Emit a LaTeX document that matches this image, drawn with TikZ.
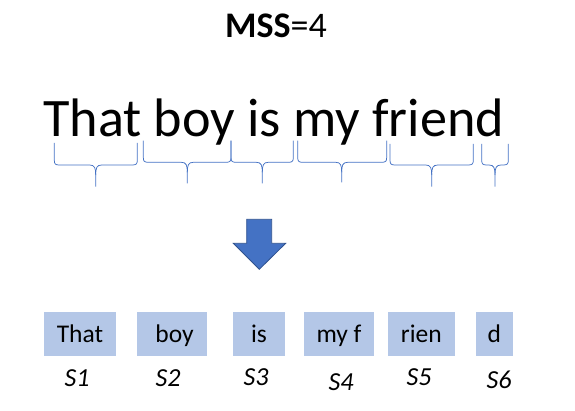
\documentclass[tikz,border=0pt]{standalone}
\usepackage{fontspec}
\setmainfont{Carlito}
\definecolor{braceblue}{HTML}{4472C4}
\definecolor{boxfill}{HTML}{B4C7E7}
\definecolor{arrowedge}{HTML}{2F528F}
\newcommand{\mybrace}[6]{%
  % L R top h m tip
  \draw[bracestyle] (#1,#3) -- (#1,#4-5) .. controls (#1,#4-1) and (#1+1,#4) .. (#1+5,#4)
    -- (#5-6,#4) .. controls (#5-1,#4) and (#5,#4+3) .. (#5,#4+10) -- (#5,#6);
  \draw[bracestyle] (#2,#3) -- (#2,#4-5) .. controls (#2,#4-1) and (#2-1,#4) .. (#2-5,#4)
    -- (#5+6,#4) .. controls (#5+1,#4) and (#5,#4+3) .. (#5,#4+10);
}
\tikzset{
  bracestyle/.style={draw=braceblue, line width=0.75pt},
  segbox/.style={fill=boxfill, inner sep=0pt, minimum height=43.4pt, font=\fontsize{25.5}{30}\selectfont, text depth=0pt},
  seglabel/.style={inner sep=0pt, font=\fontsize{26}{30}\selectfont\itshape, anchor=base},
}
\begin{document}
\begin{tikzpicture}[x=1pt,y=-1pt]
\useasboundingbox (0,0) rectangle (575,411);
\node[inner sep=0pt, anchor=base] (title) at (276,37.3) {\fontsize{36}{40}\selectfont\textbf{MSS}=4};
\node[inner sep=0pt, anchor=base west] (sentence) at (43,136.7) {\fontsize{54.2}{60}\selectfont That boy is my friend};
\mybrace{54.3}{137.3}{143}{165}{95.7}{186.7}
\mybrace{143.3}{231}{140.7}{162.3}{187.3}{183.3}
\mybrace{231}{293.3}{140.7}{162.3}{262.3}{183.3}
\mybrace{297.7}{386.7}{140.7}{162.3}{341.7}{182.3}
\mybrace{390}{473.3}{144}{165}{431.7}{186.7}
\mybrace{481.7}{508.3}{144}{165}{495}{186.7}
\draw[fill=braceblue, draw=arrowedge, line width=0.8pt] (246.7,219.3) -- (271.7,219.3) -- (271.7,243.3) -- (285.7,243.3) -- (259.3,269.3) -- (233.3,243.3) -- (246.7,243.3) -- cycle;
\path (80,334) node[segbox, minimum width=72pt] (b1) {That};
\path (171.7,334) node[segbox, minimum width=70pt] (b2) {\ boy};
\path (259,334) node[segbox, minimum width=52pt] (b3) {is};
\path (339,334) node[segbox, minimum width=70pt] (b4) {my f};
\path (421.3,334) node[segbox, minimum width=66.7pt] (b5) {rien};
\path (494.3,334) node[segbox, minimum width=36.7pt] (b6) {d};
\node[seglabel] (s1) at (77,386) {S1};
\node[seglabel] (s2) at (168,386) {S2};
\node[seglabel] (s3) at (256,385.5) {S3};
\node[seglabel] (s4) at (341,390) {S4};
\node[seglabel] (s5) at (419,385.5) {S5};
\node[seglabel] (s6) at (499,388.3) {S6};
\end{tikzpicture}
\end{document}
